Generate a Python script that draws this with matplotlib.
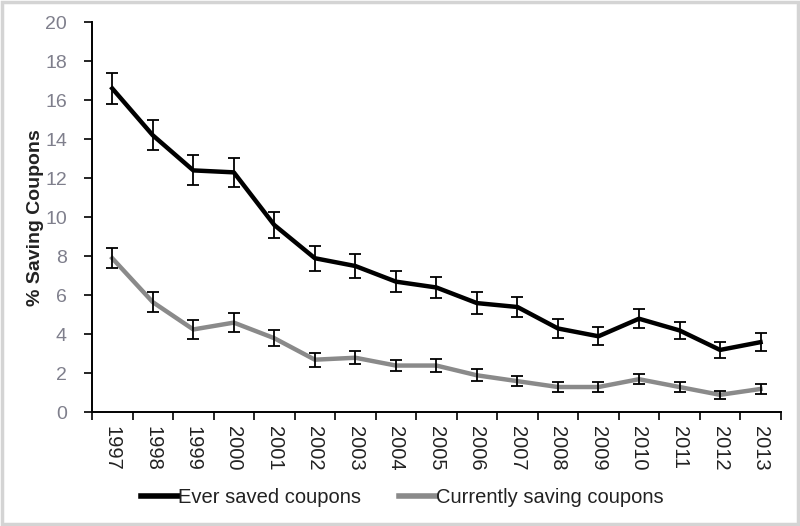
import matplotlib.pyplot as plt
import numpy as np
from matplotlib import patches

plt.rcParams['font.family'] = ['Liberation Sans', 'DejaVu Sans']

# Data
years = [str(y) for y in range(1997, 2014)]
ever_saved = [16.6, 14.2, 12.4, 12.3, 9.6, 7.9, 7.5, 6.7, 6.4, 5.6, 5.4, 4.3, 3.9, 4.8, 4.2, 3.2, 3.6]
ever_err = [0.8, 0.78, 0.77, 0.75, 0.66, 0.63, 0.6, 0.55, 0.52, 0.55, 0.5, 0.48, 0.45, 0.5, 0.45, 0.4, 0.45]
current_saving = [7.9, 5.65, 4.25, 4.6, 3.8, 2.7, 2.8, 2.4, 2.4, 1.9, 1.6, 1.3, 1.3, 1.7, 1.3, 0.9, 1.2]
current_err = [0.5, 0.5, 0.47, 0.5, 0.42, 0.35, 0.33, 0.3, 0.34, 0.3, 0.27, 0.25, 0.25, 0.25, 0.25, 0.2, 0.25]
y_ticks = list(range(0, 21, 2))

fig = plt.figure(figsize=(8, 5.26), dpi=100)
ax = fig.add_axes([0.115, 0.216, 0.861, 0.742])

x = np.arange(len(years))

# Lines
ax.plot(x, ever_saved, color='black', lw=3.2, solid_joinstyle='round', label='Ever saved coupons', zorder=2)
ax.plot(x, current_saving, color='#8a8a8a', lw=3.2, solid_joinstyle='round', label='Currently saving coupons', zorder=2)

# Error bars
ax.errorbar(x, ever_saved, yerr=ever_err, fmt='none', ecolor='black', elinewidth=1.3, capsize=4, capthick=1.3, zorder=3)
ax.errorbar(x, current_saving, yerr=current_err, fmt='none', ecolor='black', elinewidth=1.3, capsize=4, capthick=1.3, zorder=3)

# Axes styling
ax.set_xlim(-0.5, len(years) - 0.5)
ax.set_ylim(0, 20)
ax.set_yticks(y_ticks)
ax.tick_params(axis='y', direction='out', length=6, width=1.2, labelsize=14, labelcolor='#7f7f8c', pad=12)

ax.set_xticks(np.arange(len(years) + 1) - 0.5)
ax.set_xticklabels([])
ax.set_xticks(x, minor=True)
ax.set_xticklabels(years, minor=True, rotation=-90, fontsize=14.5, color='#222222', va='top', ha='center')
ax.tick_params(axis='x', which='major', direction='out', length=6, width=1.2)
ax.tick_params(axis='x', which='minor', length=0, pad=10)

for side in ['top', 'right']:
    ax.spines[side].set_visible(False)
for side in ['left', 'bottom']:
    ax.spines[side].set_linewidth(1.4)
    ax.spines[side].set_color('black')

ax.set_ylabel('% Saving Coupons', fontsize=14, fontweight='bold', color='#222222', labelpad=1)

leg = fig.legend(loc='center', bbox_to_anchor=(0.503, 0.055), ncol=2, frameon=False,
                 fontsize=14.5, handlelength=1.85, handletextpad=0.0, columnspacing=1.9)
for t in leg.get_texts():
    t.set_color('#222222')
for h in leg.get_lines():
    h.set_linewidth(4)

# Light border around the whole picture
fig.patches.append(patches.Rectangle((0.002, 0.003), 0.995, 0.994, transform=fig.transFigure,
                                     fill=False, edgecolor='#d4d4d4', linewidth=2.5))

fig.savefig('out.png', dpi=100)
